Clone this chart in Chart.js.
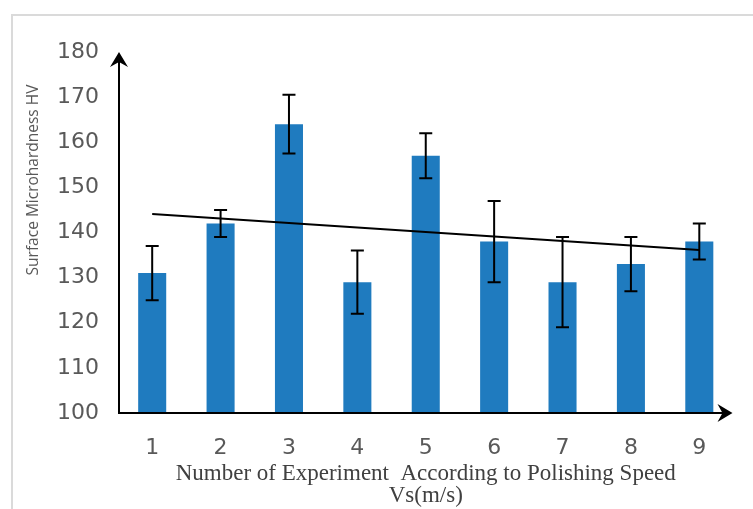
<!DOCTYPE html>
<html>
<head>
<meta charset="utf-8">
<script src="https://cdn.jsdelivr.net/npm/chart.js@4.4.1/dist/chart.umd.min.js"></script>
<style>
  html, body { margin: 0; padding: 0; background: #ffffff; }
  #wrap { width: 753px; height: 509px; position: relative; }
</style>
</head>
<body>
<div id="wrap"><canvas id="c" width="753" height="509"></canvas></div>
<script>
// Experiments numbered by polishing speed
const experiments = ['1', '2', '3', '4', '5', '6', '7', '8', '9'];
// Mean surface microhardness (HV) per experiment
const hardness = [131, 142, 164, 129, 157, 138, 129, 133, 138];
// Half-width of the error bar for each experiment (HV)
const hardnessError = [6, 3, 6.5, 7, 5, 9, 10, 6, 4];
// Vertical axis range
const yMin = 100;
const yMax = 180;
const yStep = 10;

const yTitle = 'Surface Microhardness HV';
const xTitleLines = ['Number of Experiment  According to Polishing Speed', 'Vs(m/s)'];

// Least-squares linear trend through the means
function linearTrend(values) {
  const n = values.length;
  let sx = 0, sy = 0, sxx = 0, sxy = 0;
  values.forEach((v, i) => {
    const x = i + 1;
    sx += x; sy += v; sxx += x * x; sxy += x * v;
  });
  const slope = (n * sxy - sx * sy) / (n * sxx - sx * sx);
  const icpt = (sy - slope * sx) / n;
  return values.map((_, i) => icpt + slope * (i + 1));
}
const trend = linearTrend(hardness);

const BLACK = '#000000';
const BAR_BLUE = '#1f7bbf';
const LABEL_GREY = '#595959';

// Light frame around the figure
const framePlugin = {
  id: 'frame',
  beforeDraw(chart) {
    const ctx = chart.ctx;
    ctx.save();
    ctx.strokeStyle = '#dadada';
    ctx.lineWidth = 2;
    ctx.beginPath();
    ctx.moveTo(12, chart.height);
    ctx.lineTo(12, 15);
    ctx.lineTo(chart.width, 15);
    ctx.stroke();
    ctx.restore();
  }
};

// Axis lines ending in arrowheads
function arrowHead(ctx, tx, ty, dir) {
  ctx.beginPath();
  if (dir === 'up') {
    ctx.moveTo(tx, ty);
    ctx.lineTo(tx - 9, ty + 15);
    ctx.lineTo(tx, ty + 10);
    ctx.lineTo(tx + 9, ty + 15);
  } else {
    ctx.moveTo(tx, ty);
    ctx.lineTo(tx - 15, ty - 9);
    ctx.lineTo(tx - 10, ty);
    ctx.lineTo(tx - 15, ty + 9);
  }
  ctx.closePath();
  ctx.fill();
}

const axesPlugin = {
  id: 'arrowAxes',
  afterDatasetsDraw(chart) {
    const { ctx, chartArea } = chart;
    const y = chart.scales.y;
    const x0 = chartArea.left + 1;
    const yBase = y.getPixelForValue(yMin);
    const yTop = y.getPixelForValue(yMax);
    const xEnd = chartArea.right - 1;
    ctx.save();
    ctx.strokeStyle = BLACK;
    ctx.fillStyle = BLACK;
    ctx.lineWidth = 2;
    ctx.beginPath();
    ctx.moveTo(x0, yTop + 6);
    ctx.lineTo(x0, yBase);
    ctx.lineTo(xEnd - 6, yBase);
    ctx.stroke();
    arrowHead(ctx, x0, yTop, 'up');
    arrowHead(ctx, xEnd, yBase, 'right');
    ctx.restore();
  }
};

// Error bars drawn at each bar's centre from the value scale
const errorBarPlugin = {
  id: 'errorBars',
  afterDatasetsDraw(chart) {
    const { ctx } = chart;
    const meta = chart.getDatasetMeta(0);
    const y = chart.scales.y;
    ctx.save();
    ctx.strokeStyle = BLACK;
    ctx.lineWidth = 2;
    meta.data.forEach((bar, i) => {
      const v = hardness[i], e = hardnessError[i];
      const top = y.getPixelForValue(v + e);
      const bot = y.getPixelForValue(v - e);
      const cx = bar.x;
      const cap = 6.5;
      ctx.beginPath();
      ctx.moveTo(cx, top); ctx.lineTo(cx, bot);
      ctx.moveTo(cx - cap, top); ctx.lineTo(cx + cap, top);
      ctx.moveTo(cx - cap, bot); ctx.lineTo(cx + cap, bot);
      ctx.stroke();
    });
    ctx.restore();
  }
};

// Rotated value-axis caption
const yTitlePlugin = {
  id: 'yTitle',
  afterDraw(chart) {
    const ctx = chart.ctx;
    ctx.save();
    ctx.translate(34, 180);
    ctx.rotate(-Math.PI / 2);
    ctx.fillStyle = LABEL_GREY;
    ctx.font = '15.5px "Open Sans"';
    ctx.textAlign = 'center';
    ctx.textBaseline = 'middle';
    ctx.fillText(yTitle, 0, 0);
    ctx.restore();
  }
};

new Chart(document.getElementById('c'), {
  data: {
    labels: experiments,
    datasets: [
      {
        type: 'bar',
        data: hardness,
        backgroundColor: BAR_BLUE,
        borderWidth: 0,
        barPercentage: 0.41,
        categoryPercentage: 1.0,
        order: 2
      },
      {
        type: 'line',
        data: trend,
        borderColor: BLACK,
        borderWidth: 2,
        pointRadius: 0,
        fill: false,
        tension: 0,
        order: 1
      }
    ]
  },
  options: {
    responsive: false,
    animation: false,
    devicePixelRatio: 1,
    layout: { padding: { top: 52, right: 19.5, left: 0, bottom: 0 } },
    plugins: {
      legend: { display: false },
      tooltip: { enabled: false },
      title: { display: false }
    },
    scales: {
      x: {
        offset: true,
        grid: { display: false, drawTicks: false },
        border: { display: false },
        ticks: {
          color: LABEL_GREY,
          font: { family: '"DejaVu Sans"', size: 22 },
          padding: 22,
          maxRotation: 0
        },
        title: {
          display: true,
          text: xTitleLines,
          color: '#404040',
          font: { family: '"Liberation Serif"', size: 23, lineHeight: '22px' },
          padding: { top: 0, bottom: 2 }
        },
        afterFit(scale) { scale.height = 96; }
      },
      y: {
        min: yMin,
        max: yMax,
        grid: { display: false, drawTicks: false },
        border: { display: false },
        ticks: {
          stepSize: yStep,
          color: LABEL_GREY,
          font: { family: '"DejaVu Sans"', size: 22 },
          padding: 19
        },
        afterFit(scale) { scale.width = 118; }
      }
    }
  },
  plugins: [framePlugin, axesPlugin, errorBarPlugin, yTitlePlugin]
});
</script>
</body>
</html>
